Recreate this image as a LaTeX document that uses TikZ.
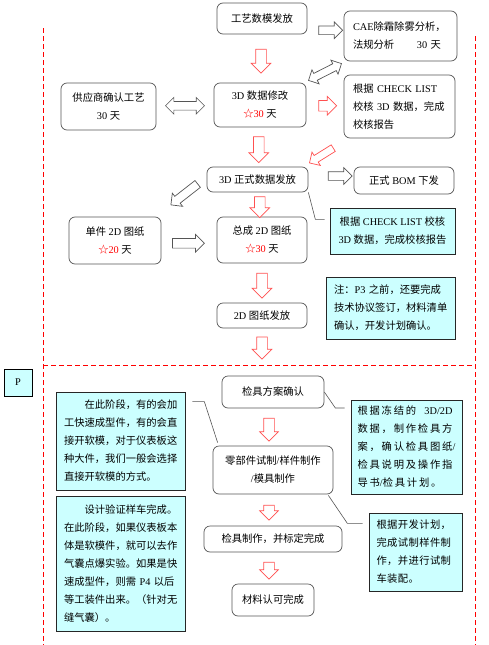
\documentclass[tikz,border=0pt]{standalone}
\usepackage{fontspec}
\setmainfont{Liberation Serif}
\newfontfamily\cjkfont{Noto Sans CJK SC}
\newfontfamily\latfont{Liberation Serif}
\usetikzlibrary{shapes.arrows,calc}

% switch fonts between CJK and Latin text
\XeTeXinterchartokenstate=1
\newXeTeXintercharclass\cjkcls
\newcount\cc
\cc="3000 \loop\XeTeXcharclass\cc=\cjkcls\ifnum\cc<"9FFF\advance\cc by 1\repeat
\cc="FF00 \loop\XeTeXcharclass\cc=\cjkcls\ifnum\cc<"FFEF\advance\cc by 1\repeat
\XeTeXcharclass"2606=\cjkcls
\XeTeXinterchartoks 0 \cjkcls={\cjkfont}
\XeTeXinterchartoks 4095 \cjkcls={\cjkfont}
\XeTeXinterchartoks \cjkcls 0={\latfont}
\XeTeXinterchartoks \cjkcls 4095={\latfont}

\definecolor{notecyan}{HTML}{CCFFFF}
\definecolor{boxgray}{HTML}{555555}
\definecolor{linered}{HTML}{FF5050}

\begin{document}
\begin{tikzpicture}[x=1pt, y=-1pt,
    font=\fontsize{10.3}{18}\selectfont,
    stage/.style = {draw=boxgray, line width=0.7pt, rounded corners=6pt, align=center, inner sep=0pt},
    note/.style = {draw=black!85, line width=0.7pt, fill=notecyan, inner sep=0pt},
    spread/.style = {execute at begin node={\XeTeXinterchartoks\cjkcls\cjkcls={\nobreak\hskip#1}}},
    pbox/.style = {draw=black, line width=0.7pt, fill=notecyan, minimum width=28pt, minimum height=27pt},
    redarrow/.style = {single arrow, draw=linered, fill=white, line width=0.7pt, inner xsep=0pt, inner ysep=5pt,
      single arrow head extend=4.5pt},
    blackarrow/.style = {single arrow, draw=boxgray, fill=white, line width=0.7pt, inner xsep=0pt, inner ysep=4pt,
      single arrow head extend=4pt},
    twoway/.style = {double arrow, draw=boxgray, fill=white, line width=0.7pt, inner xsep=0pt, inner ysep=3.5pt,
      double arrow head extend=4pt},
    callout/.style = {draw=boxgray, line width=0.6pt},
    frame/.style = {draw=red, line width=0.7pt, dash pattern=on 5pt off 3pt}
  ]
  \useasboundingbox (0,0) rectangle (488,645);

  % phase frame
  \draw[frame] (43,28) -- (43,645);
  \draw[frame] (475,36) -- (475,645);
  \draw[frame] (43,365) -- (475,365);
  \node[pbox] (phase) at (18,382.5) {P};

  % upper phase
  \node[stage, minimum width=90pt, minimum height=31pt] (craft) at (262,18.5) {工艺数模发放};
  \node[stage, minimum width=113pt, minimum height=50pt, text width=95pt, align=left] (cae) at (400.5,36)
    {CAE除霜除雾分析，\\法规分析\hspace{2.2em}30 天};
  \node[stage, minimum width=95pt, minimum height=47pt] (supplier) at (108.5,106.5) {供应商确认工艺\\30 天};
  \node[stage, minimum width=92pt, minimum height=44pt] (modify) at (260,105)
    {3D 数据修改\\\textcolor{red}{☆30} 天};
  \node[stage, minimum width=111pt, minimum height=63pt, text width=93pt, align=left] (check) at (399.5,106.5)
    {根据 CHECK LIST\\校核 3D 数据，完成\\校核报告};
  \node[stage, minimum width=101pt, minimum height=25pt] (release3d) at (257.5,179.5) {3D 正式数据发放};
  \node[stage, minimum width=100pt, minimum height=27pt] (bom) at (404,180.5) {正式 BOM 下发};
  \node[note, minimum width=125pt, minimum height=46pt, align=center] (note1) at (392.5,231)
    {根据 CHECK LIST 校核\\3D 数据，完成校核报告};
  \node[stage, minimum width=92pt, minimum height=47pt] (part2d) at (115,240.5)
    {单件 2D 图纸\\\textcolor{red}{☆20} 天};
  \node[stage, minimum width=90pt, minimum height=46pt] (asm2d) at (262,240)
    {总成 2D 图纸\\\textcolor{red}{☆30} 天};
  \node[stage, minimum width=90pt, minimum height=25pt] (release2d) at (262,315.5) {2D 图纸发放};
  \node[note, minimum width=129pt, minimum height=62pt, text width=113pt, align=left] (note2) at (390.5,308)
    {注：P3 之前，还要完成\\技术协议签订，材料清单\\确认，开发计划确认。};

  \node[blackarrow, minimum height=24pt] (a1) at ($(craft.east)!0.5!(cae.west)+(3,3)$) {};
  \node[redarrow, minimum height=24pt, rotate=-90] (a2) at ($(craft.south)!0.5!(modify.north)$) {};
  \node[twoway, minimum height=37pt, rotate=27] (a3) at ($(modify.north east)!0.5!(cae.south west)$) {};
  \node[twoway, minimum height=39pt, inner ysep=4pt] (a4) at ($(supplier.east)!0.5!(modify.west)$) {};
  \node[redarrow, minimum height=18pt, single arrow head extend=4pt] (a5)
    at ($(modify.east)!0.5!(check.west)$) {};
  \node[redarrow, minimum height=26pt, rotate=-90] (a6) at ($(modify.south)!0.5!(release3d.north)$) {};
  \node[redarrow, minimum height=28pt, inner ysep=3.5pt, single arrow head extend=4pt, rotate=212] (a7)
    at ($(check.south west)!0.5!(release3d.north east)+(-3,2)$) {};
  \node[blackarrow, minimum height=24pt] (a8) at ($(release3d.east)!0.5!(bom.west)+(7,-4)$) {};
  \node[blackarrow, minimum height=34pt, rotate=218] (a9) at ($(release3d.west)!0.5!(part2d.north east)+(2,-5)$) {};
  \node[redarrow, minimum height=21pt, rotate=-90] (a10) at ($(release3d.south)!0.5!(asm2d.north)$) {};
  \node[blackarrow, minimum height=32pt, inner ysep=4.5pt] (a11) at ($(part2d.east)!0.5!(asm2d.west)+(-3,3)$) {};
  \node[redarrow, minimum height=25pt, rotate=-90] (a12) at ($(asm2d.south)!0.5!(release2d.north)$) {};
  \node[redarrow, minimum height=22pt, rotate=-90] (a13) at ($(release2d.south)+(0,17)$) {};

  \draw[callout] (release3d.south east) -- ++(7,27) coordinate (c1) -- ($(c1 -| note1.west)+(-5,0)$);

  % lower phase
  \node[stage, minimum width=102pt, minimum height=32pt] (gplan) at (273,392) {检具方案确认};
  \node[stage, minimum width=120pt, minimum height=48pt] (trial) at (273,470)
    {零部件试制/样件制作\\/模具制作};
  \node[note, minimum width=129pt, minimum height=98pt, text width=113pt, align=left] (lnote1) at (120.5,441)
    {\hspace*{2em}在此阶段，有的会加\\工快速成型件，有的会直\\接开软模，对于仪表板这\\种大件，我们一般会选择\\直接开软模的方式。};
  \node[note, minimum width=129pt, minimum height=135pt, text width=113pt, align=left] (lnote2) at (120.5,563.5)
    {\hspace*{2em}设计验证样车完成。\\在此阶段，如果仪表板本\\体是软模件，就可以去作\\气囊点爆实验。如果是快\\速成型件，则需 P4 以后\\等工装件出来。（针对无\\缝气囊）。};
  \node[stage, minimum width=138pt, minimum height=26pt] (gmake) at (273,539) {检具制作，并标定完成};
  \node[stage, minimum width=82pt, minimum height=32pt] (approve) at (273,600) {材料认可完成};
  \node[note, spread=1.8pt, minimum width=111pt, minimum height=94pt, text width=98pt, align=left] (rnote1) at (406.5,447)
    {根据冻结的\hspace{0.8em}3D/2D\\数据，制作检具方\\案，确认检具图纸/\\检具说明及操作指\\导书/检具计划。};
  \node[note, spread=0.4pt, minimum width=93pt, minimum height=78pt, text width=78pt, align=left] (rnote2) at (415.5,552)
    {根据开发计划，\\完成试制样件制\\作，并进行试制\\车装配。};

  \node[redarrow, minimum height=23pt, single arrow head extend=4pt, rotate=-90] (b1)
    at ($(gplan.south)!0.5!(trial.north)+(-4,0)$) {};
  \node[redarrow, minimum height=15pt, single arrow head extend=4pt, rotate=-90] (b2)
    at ($(trial.south)!0.5!(gmake.north)+(-4,0)$) {};
  \node[redarrow, minimum height=17pt, single arrow head extend=4pt, rotate=-90] (b3)
    at ($(gmake.south)!0.5!(approve.north)+(-4,0)$) {};

  \draw[callout] (gplan.east) -- ++(11,16) coordinate (c2) -- ($(c2 -| rnote1.west)+(-6,0)$);
  \draw[callout] ($(lnote1.north east)+(7,10)$) -- ++(12,0) -- ($(trial.north west)+(5,-3)$);
  \draw[callout] ($(trial.south east)+(-5,1)$) -- ++(19,28) coordinate (c4) -- ($(c4 -| rnote2.west)+(-6,0)$);
\end{tikzpicture}
\end{document}
